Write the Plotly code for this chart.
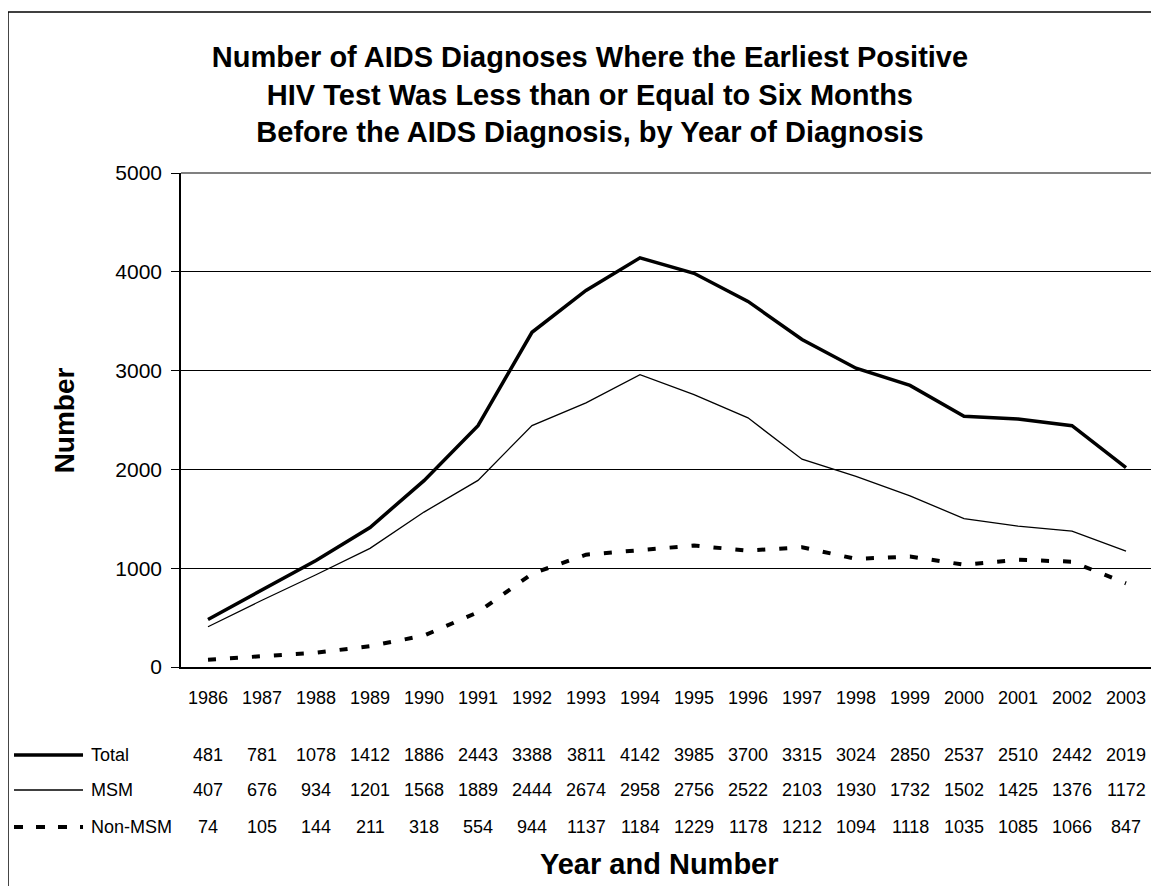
import plotly.graph_objects as go

years = [1986, 1987, 1988, 1989, 1990, 1991, 1992, 1993, 1994,
         1995, 1996, 1997, 1998, 1999, 2000, 2001, 2002, 2003]
total = [481, 781, 1078, 1412, 1886, 2443, 3388, 3811, 4142,
         3985, 3700, 3315, 3024, 2850, 2537, 2510, 2442, 2019]
msm = [407, 676, 934, 1201, 1568, 1889, 2444, 2674, 2958,
       2756, 2522, 2103, 1930, 1732, 1502, 1425, 1376, 1172]
non_msm = [74, 105, 144, 211, 318, 554, 944, 1137, 1184,
           1229, 1178, 1212, 1094, 1118, 1035, 1085, 1066, 847]

FONT = "Arial, Liberation Sans, sans-serif"

series = [
    ("Total", total, dict(color="black", width=3.5)),
    ("MSM", msm, dict(color="black", width=1.3)),
    ("Non-MSM", non_msm, dict(color="black", width=4, dash="8px,14px")),
]

fig = go.Figure()
for name, vals, line in series:
    fig.add_trace(go.Scatter(x=years, y=vals, name=name, mode="lines", line=line))

# data table under the chart
row_y = [-0.178, -0.249, -0.324]
key_dash = ["solid", "solid", "9px,13px"]
key_width = [3.5, 1.3, 4]
annotations = []
shapes = []
for (name, vals, _), ry, dsh, wd in zip(series, row_y, key_dash, key_width):
    for yr, v in zip(years, vals):
        annotations.append(dict(x=yr, y=ry, xref="x", yref="paper", text=str(v),
                                xanchor="center", yanchor="middle",
                                showarrow=False, font=dict(size=18)))
    annotations.append(dict(x=-0.0947, y=ry, xref="paper", yref="paper", text=name,
                            xanchor="left", yanchor="middle",
                            showarrow=False, font=dict(size=18)))
    shapes.append(dict(type="line", xref="paper", yref="paper", x0=-0.1718, x1=-0.1008,
                       y0=ry, y1=ry, line=dict(color="black", width=wd, dash=dsh)))

for yr in years:
    annotations.append(dict(x=yr, y=-0.0628, xref="x", yref="paper", text=str(yr),
                            xanchor="center", yanchor="middle",
                            showarrow=False, font=dict(size=18)))

annotations.append(dict(x=0.492, y=-0.399, xref="paper", yref="paper",
                        text="<b>Year and Number</b>", showarrow=False,
                        xanchor="center", yanchor="middle", font=dict(size=29)))
annotations.append(dict(x=-0.120, y=0.5, xref="paper", yref="paper",
                        text="<b>Number</b>", textangle=-90, showarrow=False,
                        xanchor="center", yanchor="middle", font=dict(size=28)))

# plot border (top/right gray) and outer chart frame
shapes += [
    dict(type="line", xref="paper", yref="paper", x0=0, x1=1, y0=1, y1=1,
         line=dict(color="#808080", width=2), layer="above"),
    dict(type="line", xref="paper", yref="paper", x0=1, x1=1, y0=0, y1=1,
         line=dict(color="#808080", width=2), layer="above"),
    dict(type="line", xref="paper", yref="paper", x0=-0.178, x1=-0.178, y0=-0.45, y1=1.326,
         line=dict(color="black", width=1.5)),
    dict(type="line", xref="paper", yref="paper", x0=-0.178, x1=1.01, y0=1.326, y1=1.326,
         line=dict(color="black", width=1.5)),
]

# page body has an 8px margin, so the figure is 8px smaller than the window
fig.update_layout(
    width=1151, height=878,
    margin=dict(l=173, r=6, t=165, b=219),
    paper_bgcolor="white", plot_bgcolor="white",
    font=dict(family=FONT, color="black"),
    showlegend=False,
    title=dict(text="<b>Number of AIDS Diagnoses Where the Earliest Positive<br>"
                    "HIV Test Was Less than or Equal to Six Months<br>"
                    "Before the AIDS Diagnosis, by Year of Diagnosis</b>",
               x=0.5056, xanchor="center", y=0.933, yanchor="middle",
               font=dict(size=29, family=FONT)),
    annotations=annotations,
    shapes=shapes,
)
fig.update_xaxes(range=[1985.5, 2003.5], showticklabels=False,
                 showline=True, linecolor="black", linewidth=1.5,
                 showgrid=False, ticks="", zeroline=False)
fig.update_yaxes(range=[0, 5000], tickvals=[0, 1000, 2000, 3000, 4000, 5000],
                 showline=True, linecolor="black", linewidth=1.5,
                 ticks="outside", ticklen=8, tickcolor="black",
                 ticklabelstandoff=5,
                 showgrid=True, gridcolor="black", gridwidth=1, zeroline=False,
                 tickfont=dict(size=21))

fig.write_html("out.html")
